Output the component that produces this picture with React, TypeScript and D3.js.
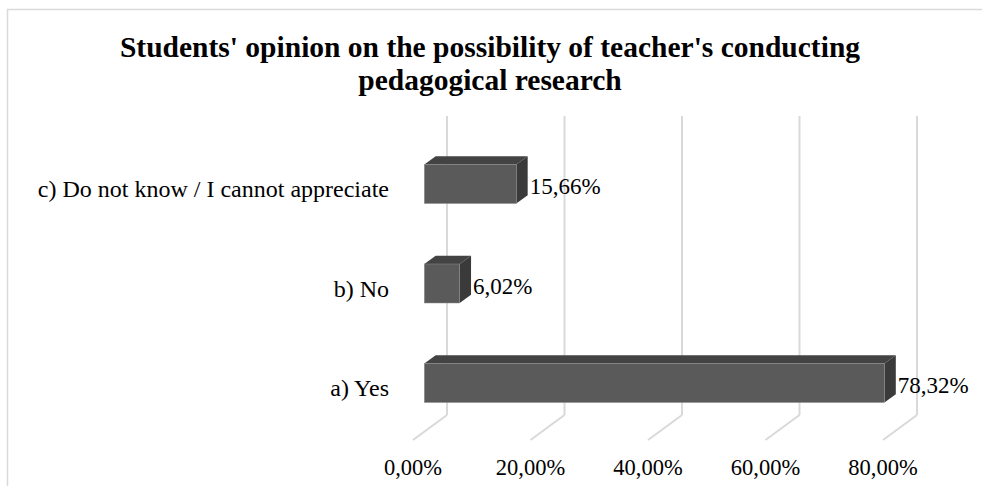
import React from "react"
import * as d3 from "d3"

const categories = ["c) Do not know / I cannot appreciate", "b) No", "a) Yes"]
const values = [15.66, 6.02, 78.32]
const ticks = [0, 20, 40, 60, 80]
const titleLines = [
  "Students' opinion on the possibility of teacher's conducting",
  "pedagogical research",
]

const W = 982
const H = 486
const FONT = "'Liberation Serif', 'Times New Roman', serif"

// oblique depth of the 3D box
const depth = { dx: 34, dy: -25 }
const wallTop = 116
const floorFrontY = 440
const barH = 39

const fmt = (v: number) => v.toFixed(2).replace(".", ",") + "%"

export default function App() {
  const x = d3.scaleLinear().domain([0, 80]).range([413, 883])
  const y = d3.scalePoint<string>().domain(categories).range([184, 383])

  const floorBackY = floorFrontY + depth.dy
  // bar sits in the middle third of the depth
  const b0 = { dx: depth.dx / 3, dy: depth.dy / 3 }
  const b1 = { dx: (depth.dx * 2) / 3, dy: (depth.dy * 2) / 3 }

  return (
    <div style={{ position: "absolute", left: 0, top: 0 }}>
      <svg width={W} height={H} style={{ display: "block", background: "#fff" }}>
        <rect x={7.5} y={9.5} width={1000} height={500} fill="none" stroke="#d9d9d9" strokeWidth={1.5} />

        {titleLines.map((t, i) => (
          <text
            key={i}
            x={490}
            y={57 + i * 33}
            textAnchor="middle"
            fontFamily={FONT}
            fontWeight="bold"
            fontSize={29.5}
            fill="#000"
          >
            {t}
          </text>
        ))}

        {/* back wall gridlines + floor lines */}
        {ticks.map((t) => (
          <g key={t}>
            <line
              x1={x(t) + depth.dx}
              x2={x(t) + depth.dx}
              y1={wallTop}
              y2={floorBackY}
              stroke="#d9d9d9"
              strokeWidth={2}
            />
            <line
              x1={x(t) + depth.dx}
              x2={x(t)}
              y1={floorBackY}
              y2={floorFrontY}
              stroke="#d9d9d9"
              strokeWidth={2}
            />
            <text
              x={x(t)}
              y={475}
              textAnchor="middle"
              fontFamily={FONT}
              fontSize={22.5}
              fill="#000"
            >
              {fmt(t)}
            </text>
          </g>
        ))}

        {categories.map((c, i) => {
          const cy = y(c)!
          const xl = x(0) + b0.dx
          const xr = x(values[i]) + b0.dx
          const yt = cy - barH / 2
          const yb = cy + barH / 2
          const ox = b1.dx - b0.dx
          const oy = b1.dy - b0.dy
          return (
            <g key={c}>
              <polygon
                points={`${xl},${yt} ${xr},${yt} ${xr + ox},${yt + oy} ${xl + ox},${yt + oy}`}
                fill="#434343"
              />
              <polygon
                points={`${xr},${yt} ${xr + ox},${yt + oy} ${xr + ox},${yb + oy} ${xr},${yb}`}
                fill="#3a3a3a"
              />
              <rect x={xl} y={yt} width={xr - xl} height={barH} fill="#5a5a5a" stroke="#8c8c8c" strokeWidth={0.5} />
              <text
                x={xr + ox + 2}
                y={cy + 10}
                fontFamily={FONT}
                fontSize={23}
                fill="#000"
              >
                {fmt(values[i])}
              </text>
              <text
                x={389}
                y={cy + 13}
                textAnchor="end"
                fontFamily={FONT}
                fontSize={24}
                fill="#000"
              >
                {c}
              </text>
            </g>
          )
        })}
      </svg>
    </div>
  )
}
